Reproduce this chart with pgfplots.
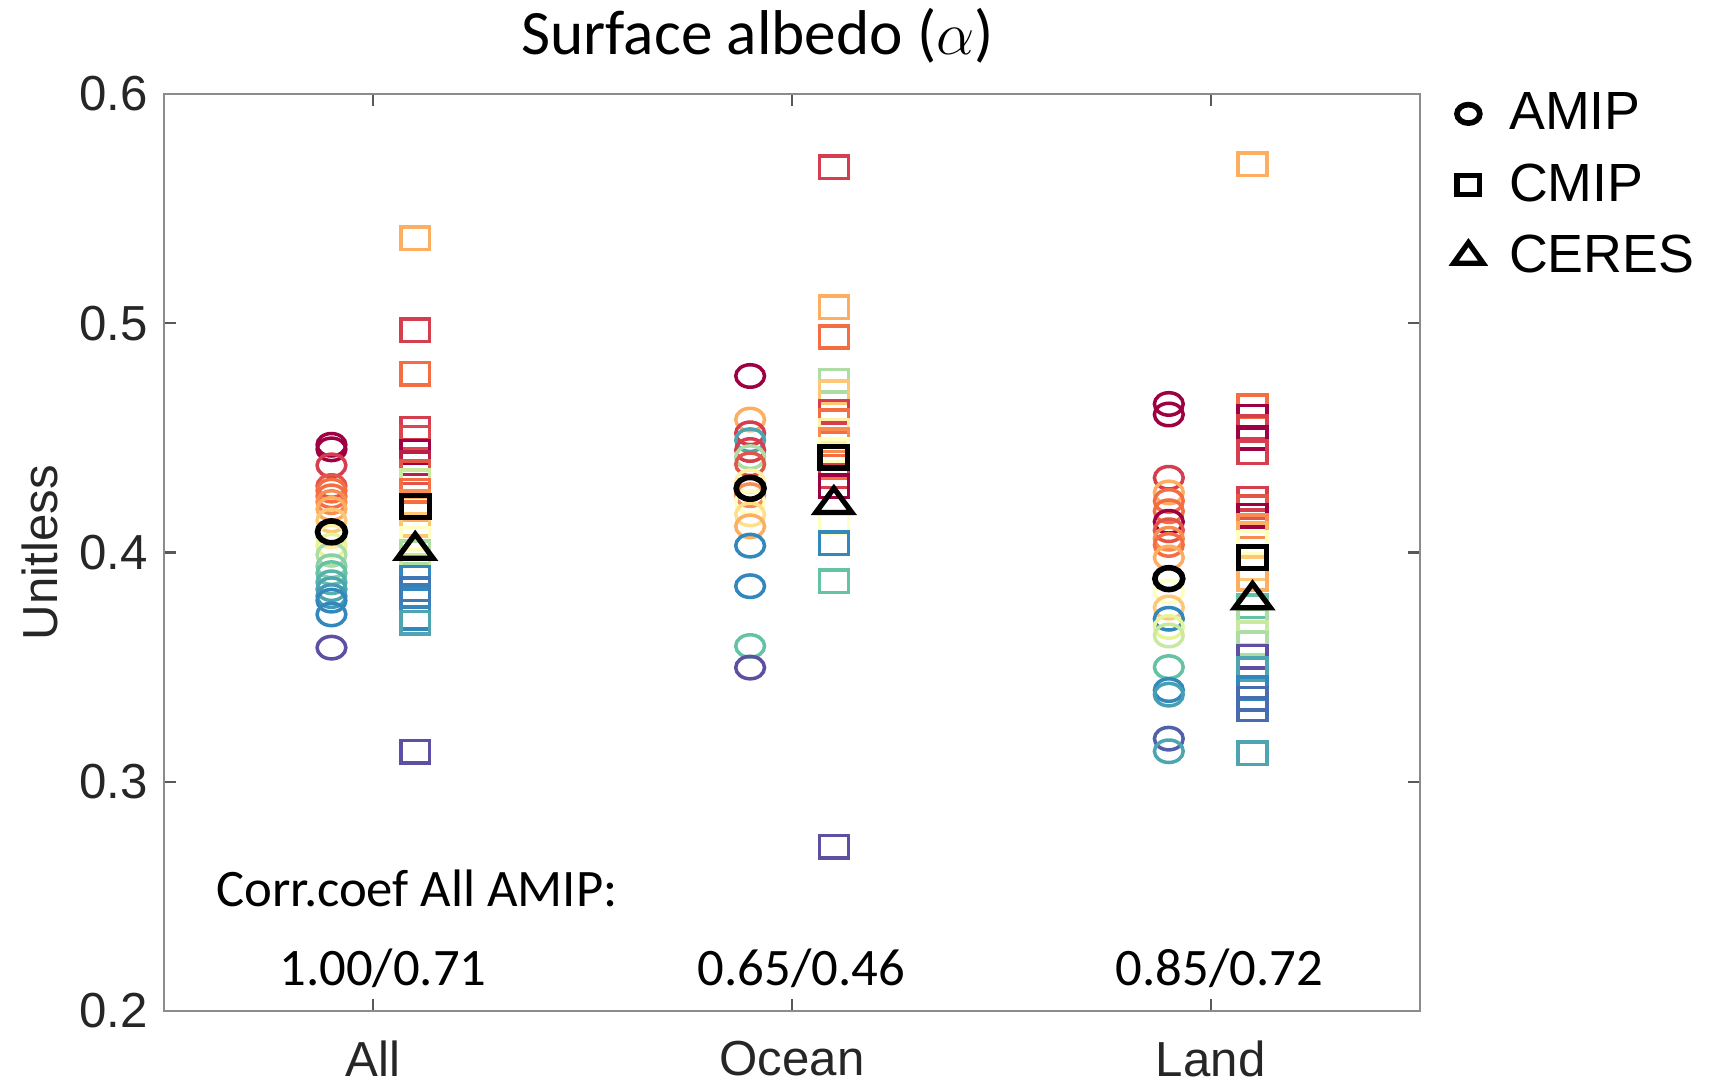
\documentclass[border=0pt]{standalone}
\usepackage{fontspec}
\setmainfont{Carlito}
\newfontfamily\arialfont{Liberation Sans}
\usepackage{pgfplots}
\pgfplotsset{compat=1.18}

% model values: x offset, albedo, colour index in the spectral map
\pgfplotstableread{
x y c
0.9 0.447 0
0.9 0.445 0
0.9 0.438 1
0.9 0.429 1.5
0.9 0.427 2
0.9 0.4245 2
0.9 0.422 2.5
0.9 0.419 3
0.9 0.414 3.5
0.9 0.407 4.5
0.9 0.403 6
0.9 0.399 7
0.9 0.394 7.5
0.9 0.391 8
0.9 0.387 8.3
0.9 0.384 8.5
0.9 0.381 8.7
0.9 0.379 9
0.9 0.373 9
0.9 0.3585 10
1.9 0.477 0
1.9 0.458 3
1.9 0.452 1
1.9 0.449 8.5
1.9 0.4447 1
1.9 0.4416 7
1.9 0.4385 1.5
1.9 0.431 4.5
1.9 0.425 2.5
1.9 0.422 5
1.9 0.4166 4
1.9 0.4114 3
1.9 0.403 9
1.9 0.3853 9
1.9 0.3592 8
1.9 0.3498 10
2.9 0.4648 0
2.9 0.4602 0
2.9 0.4326 1
2.9 0.4262 3
2.9 0.4225 2
2.9 0.418 2
2.9 0.4134 0
2.9 0.4097 1.5
2.9 0.406 2.5
2.9 0.4033 2
2.9 0.3978 3
2.9 0.383 5
2.9 0.376 3.5
2.9 0.3711 9
2.9 0.3675 6
2.9 0.3638 6.5
2.9 0.350 8
2.9 0.340 9
2.9 0.338 8.6
2.9 0.3188 9.7
2.9 0.3133 8.5
}\amip

\pgfplotstableread{
x y c
1.1 0.537 3
1.1 0.497 1
1.1 0.478 2
1.1 0.454 1
1.1 0.450 1.2
1.1 0.444 0
1.1 0.439 0.5
1.1 0.435 1.5
1.1 0.431 6.5
1.1 0.427 2
1.1 0.422 2.5
1.1 0.419 3
1.1 0.412 3.5
1.1 0.406 5
1.1 0.400 7
1.1 0.394 6.5
1.1 0.389 9
1.1 0.384 9.3
1.1 0.381 9.2
1.1 0.3716 9
1.1 0.3693 8.5
1.1 0.313 10
2.1 0.568 1
2.1 0.507 3
2.1 0.494 2
2.1 0.475 7
2.1 0.470 3.5
2.1 0.4614 1
2.1 0.4573 2
2.1 0.4531 4.5
2.1 0.449 2.5
2.1 0.4447 5
2.1 0.4374 2
2.1 0.4333 1
2.1 0.429 0
2.1 0.4134 5
2.1 0.404 9
2.1 0.3874 8
2.1 0.2716 10
3.1 0.5694 3
3.1 0.4638 2
3.1 0.4593 0
3.1 0.4547 1
3.1 0.450 0
3.1 0.4437 1
3.1 0.4235 1
3.1 0.4198 1.5
3.1 0.416 0
3.1 0.4115 2.5
3.1 0.408 3
3.1 0.4042 5
3.1 0.3932 3.5
3.1 0.3886 3
3.1 0.3766 8
3.1 0.3702 7
3.1 0.3647 6.5
3.1 0.3601 7
3.1 0.3546 10
3.1 0.3491 8.5
3.1 0.3408 9
3.1 0.3362 9.5
3.1 0.3317 9.5
3.1 0.3124 8.5
}\cmip

\begin{document}
\begin{tikzpicture}
\begin{axis}[
    scale only axis,
    width=12.56cm, height=9.17cm,
    xmin=0.5, xmax=3.5, ymin=0.2, ymax=0.6,
    xtick={1,2,3}, xticklabels={All,Ocean,Land},
    ytick={0.2,0.3,0.4,0.5,0.6},
    tick label style={font=\arialfont\fontsize{14}{16}\selectfont, text=black!85},
    xticklabel style={inner sep=0pt, yshift=-0.29cm},
    yticklabel style={xshift=-0.04cm, /pgf/number format/.cd, fixed, fixed zerofill,
        precision=1, assume math mode=true},
    tick align=inside,
    major tick length=0.12cm,
    tick style={black!65, line width=0.6pt},
    axis line style={black!45, line width=0.8pt},
    ylabel={Unitless},
    ylabel style={font=\arialfont\fontsize{14}{16}\selectfont, text=black!85,
        at={(axis description cs:-0.0987,0.5)}, anchor=center},
    colormap={spectral}{rgb255=(158,1,66) rgb255=(213,62,79) rgb255=(244,109,67)
        rgb255=(253,174,97) rgb255=(254,224,139) rgb255=(255,255,191)
        rgb255=(230,245,152) rgb255=(171,221,164) rgb255=(102,194,165)
        rgb255=(50,136,189) rgb255=(94,79,162)},
    point meta min=0, point meta max=10,
    clip=false,
    legend style={draw=none, fill=none, at={(axis description cs:1,1)},
        anchor=north west, xshift=0.33cm, yshift=0.09cm, inner sep=0pt,
        font=\arialfont\fontsize{15.3}{18}\selectfont, row sep=0.145cm,
        column sep=0.19cm},
    legend cell align=left,
    legend image code/.code={\draw[#1, mark options={xscale=1.05, yscale=0.85}]
        plot coordinates {(0.2cm,0cm)};},
]
\addplot[scatter, only marks, mark=o, mark size=3.2pt, line width=1pt,
    mark options={xscale=1.28}, point meta=explicit,
    scatter/use mapped color={draw=mapped color, fill=none}, forget plot]
    table[x=x, y=y, meta=c] {\amip};
\addplot[scatter, only marks, mark=square, mark size=3.2pt, line width=1pt,
    mark options={xscale=1.28}, point meta=explicit,
    scatter/use mapped color={draw=mapped color, fill=none}, forget plot]
    table[x=x, y=y, meta=c] {\cmip};

\addplot[only marks, mark=o, mark size=3.1pt, line width=1.6pt, black,
    mark options={xscale=1.28}]
    coordinates {(0.9,0.409) (1.9,0.428) (2.9,0.3886)};
\addplot[only marks, mark=square, mark size=3.1pt, line width=1.5pt, black,
    mark options={xscale=1.28}]
    coordinates {(1.1,0.420) (2.1,0.4416) (3.1,0.3978)};
\addplot[only marks, mark=triangle, mark size=4.6pt, line width=1.5pt, black,
    mark options={xscale=1.28}]
    coordinates {(1.1,0.401) (2.1,0.421) (3.1,0.3794)};
\legend{AMIP,CMIP,CERES}

\node[inner sep=0pt, font=\fontsize{18}{22}\selectfont] at (axis cs:1.918,0.6253) {Surface albedo ($\alpha$)};
\node[anchor=west, font=\fontsize{15}{18}\selectfont] at (axis cs:0.596,0.2534) {Corr.coef All AMIP:};
\node[font=\fontsize{15}{18}\selectfont] at (axis cs:1.023,0.2186) {1.00/0.71};
\node[font=\fontsize{15}{18}\selectfont] at (axis cs:2.022,0.2186) {0.65/0.46};
\node[font=\fontsize{15}{18}\selectfont] at (axis cs:3.021,0.2186) {0.85/0.72};
\end{axis}
\path ([shift={(-1.64cm,-0.75cm)}]current axis.south west)
  rectangle ([shift={(2.93cm,0.94cm)}]current axis.north east);
\end{tikzpicture}
\end{document}
